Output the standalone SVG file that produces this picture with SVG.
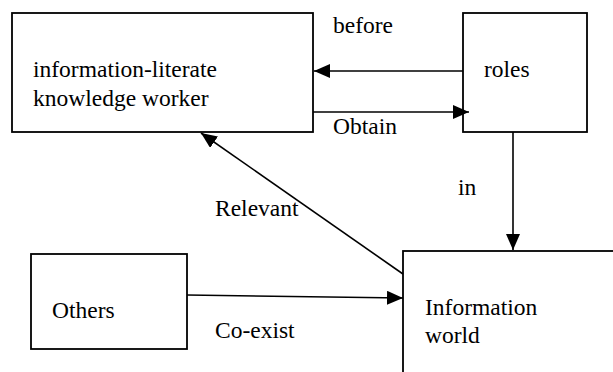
<svg xmlns="http://www.w3.org/2000/svg" width="613" height="372" viewBox="0 0 613 372" font-family="Times New Roman">
<defs>
<marker id="ah" markerUnits="userSpaceOnUse" markerWidth="16" markerHeight="14" refX="16" refY="7" orient="auto">
<path d="M0,0 L16,7 L0,14 z" fill="#000"/>
</marker>
</defs>
<rect width="613" height="372" fill="#fff"/>
<g id="worker">
<rect x="12" y="13" width="301" height="119" fill="#fff" stroke="#000" stroke-width="1.8"/>
<text x="33" y="77" font-size="23.5" font-family="Times New Roman">information-literate</text>
<text x="33" y="106" font-size="23.5" font-family="Times New Roman">knowledge worker</text>
</g>
<g id="roles">
<rect x="463" y="13" width="124" height="119" fill="#fff" stroke="#000" stroke-width="1.8"/>
<text x="484" y="77" font-size="23.5" font-family="Times New Roman">roles</text>
</g>
<g id="others">
<rect x="31" y="254" width="156" height="95" fill="#fff" stroke="#000" stroke-width="1.8"/>
<text x="52" y="318" font-size="23.5" font-family="Times New Roman">Others</text>
</g>
<g id="world">
<rect x="403" y="251" width="230" height="140" fill="#fff" stroke="#000" stroke-width="1.8"/>
<text x="425" y="315" font-size="23.5" font-family="Times New Roman">Information</text>
<text x="425" y="343" font-size="23.5" font-family="Times New Roman">world</text>
</g>
<g id="connectors" fill="none" stroke="#000" stroke-width="1.6">
<line x1="463" y1="71" x2="314" y2="71" marker-end="url(#ah)"/>
<line x1="313" y1="112" x2="469" y2="112" marker-end="url(#ah)"/>
<line x1="513" y1="132" x2="513" y2="250" marker-end="url(#ah)"/>
<line x1="403" y1="274" x2="201" y2="133" marker-end="url(#ah)"/>
<line x1="187" y1="295" x2="403" y2="298" marker-end="url(#ah)"/>
</g>
<g id="labels" fill="#000">
<text x="333" y="33" font-size="23.5" font-family="Times New Roman">before</text>
<text x="333" y="134" font-size="23.5" font-family="Times New Roman">Obtain</text>
<text x="458" y="195" font-size="23.5" font-family="Times New Roman">in</text>
<text x="215" y="216" font-size="23.5" font-family="Times New Roman">Relevant</text>
<text x="215" y="338" font-size="23.5" font-family="Times New Roman">Co-exist</text>
</g>
</svg>
